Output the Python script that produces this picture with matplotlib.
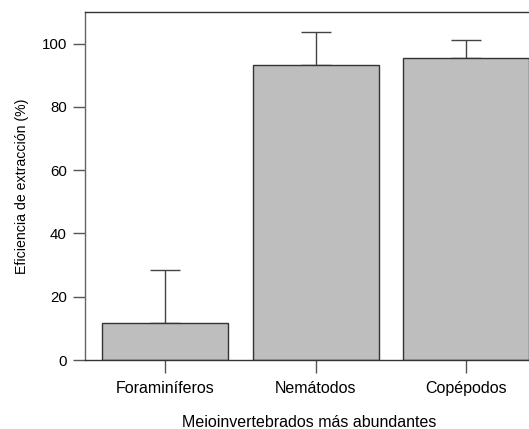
import matplotlib
matplotlib.use("Agg")
import matplotlib.pyplot as plt
import numpy as np

categories = ["Foraminíferos", "Nemátodos", "Copépodos"]
means = [11.6, 93.3, 95.5]
errors = [16.7, 10.5, 5.7]
yticks = [0, 20, 40, 60, 80, 100]

plt.rcParams['font.family'] = ['Liberation Sans', 'DejaVu Sans']

fig = plt.figure(figsize=(5.29, 4.29), dpi=100)
ax = fig.add_axes([85/529, 1 - 360/429, (529 - 85)/529 + 0.01, (360 - 12)/429])

x = np.arange(len(categories))
ax.bar(x, means, width=0.835, color="#bebebe", edgecolor="#333333", linewidth=1.0, zorder=2)
ax.errorbar(x, means, yerr=[np.zeros(len(errors)), errors], fmt="none",
            ecolor="#444444", elinewidth=1.0, capsize=10.5, capthick=1.0, zorder=1)

ax.set_xlim(-0.53, 2.45)
ax.set_ylim(0, 110)
ax.set_yticks(yticks)
ax.set_xticks(x)
ax.set_xticklabels(categories, fontsize=11.5)
ax.tick_params(axis='y', labelsize=10.8, length=9, width=1, color="#555555", pad=4)
ax.tick_params(axis='x', length=9, width=1, color="#555555", pad=6)
for s in ["left", "top", "bottom"]:
    ax.spines[s].set_color("#333333")
    ax.spines[s].set_linewidth(1.0)
ax.spines["left"].set_color("#666666")
ax.spines["right"].set_visible(False)

ax.set_ylabel("Eficiencia de extracción (%)", fontsize=10.2, labelpad=9)
ax.set_xlabel("Meioinvertebrados más abundantes", fontsize=11.5, labelpad=14)

fig.savefig("out.png", dpi=100)
